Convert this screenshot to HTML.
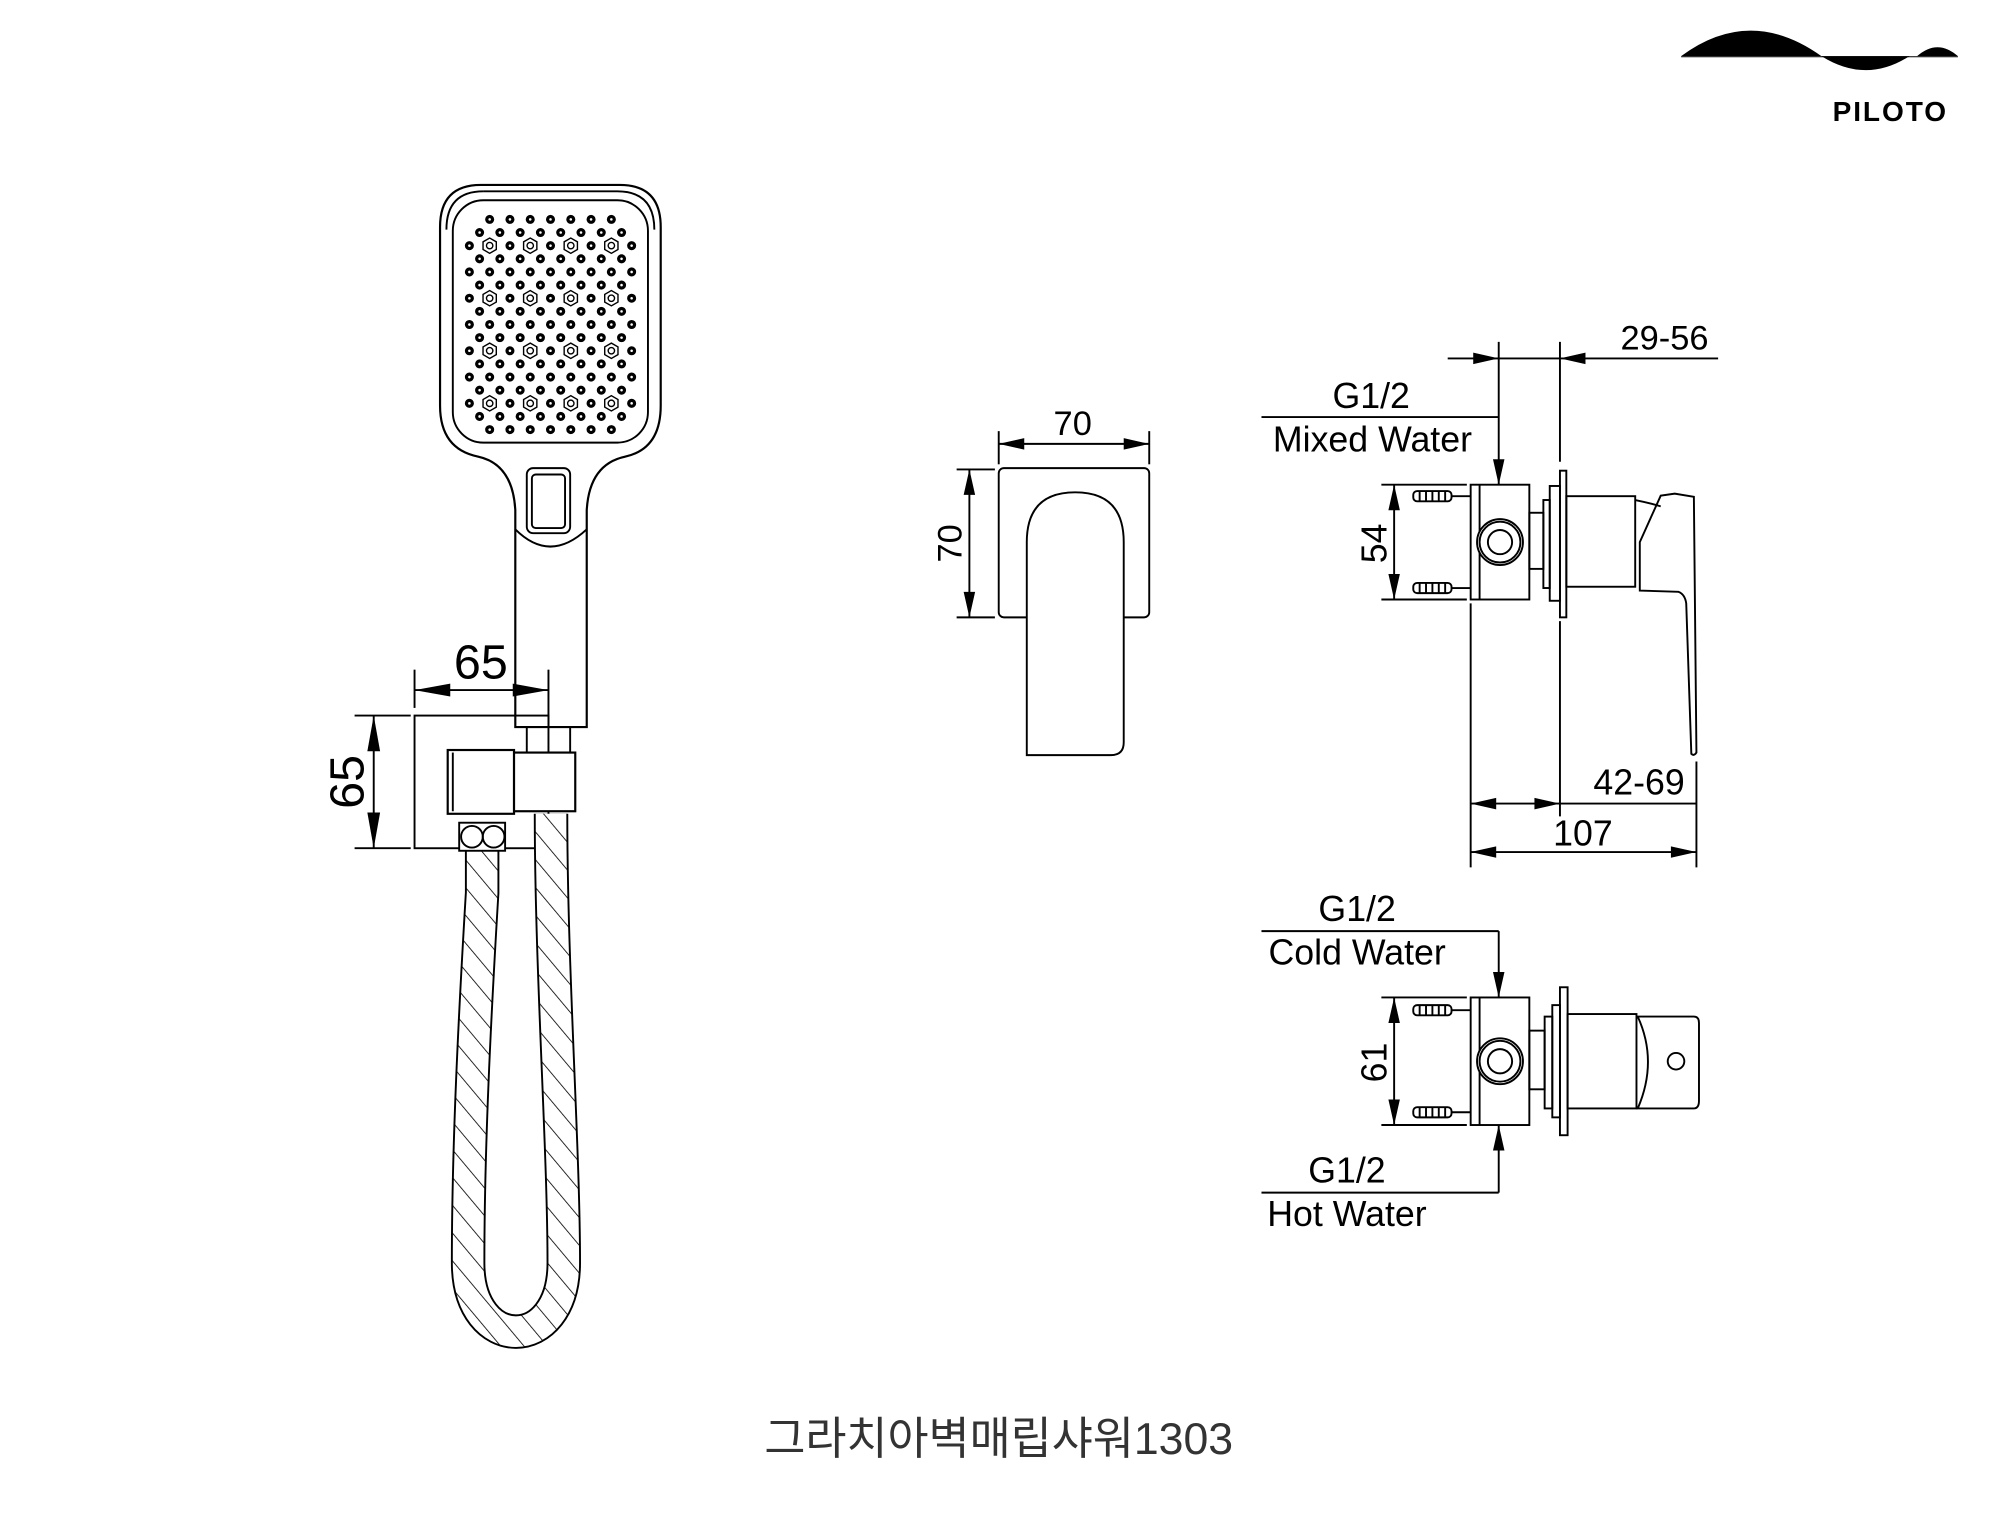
<!DOCTYPE html>
<html><head><meta charset="utf-8">
<style>
html,body{margin:0;padding:0;background:#fff;}
svg{display:block;}
text{font-family:"Liberation Sans",Arial,sans-serif;fill:#000;}
</style></head>
<body>
<svg id="s" width="2000" height="1530" viewBox="0 0 1568 1199.5" preserveAspectRatio="none" xmlns="http://www.w3.org/2000/svg">
<defs>
<pattern id="hatch" width="14" height="14" patternUnits="userSpaceOnUse" patternTransform="rotate(-40)">
<rect width="14" height="14" fill="#fff"/>
<line x1="0" y1="0" x2="0" y2="14" stroke="#000" stroke-width="1.3"/>
</pattern>
</defs>
<g fill="none" stroke="#000" stroke-width="1.5" id="g">
<!-- Logo -->
<path d="M1318 44 Q1372 4 1428 44 Z" fill="#000" stroke="none"/>
<path d="M1428 44 L1497 44 Q1463 66 1428 44 Z" fill="#000" stroke="none"/>
<path d="M1503 44 Q1519 30 1535 44 Z" fill="#000" stroke="none"/>
<line x1="1318" y1="44.5" x2="1535" y2="44.5" stroke-width="0.8"/>

<!-- Hand shower head -->
<path d="M377 145 H486 Q518 145 518 178 V318 Q518 352 490 358 Q462 364 460 400 V570 H404 V400 Q402 364 375 358 Q345 352 345 318 V178 Q345 145 377 145 Z" stroke-width="1.7"/>
<path d="M379 150 H484 Q513 150 513 180" />
<path d="M350 180 Q350 150 379 150"/>
<rect x="355" y="157" width="153" height="190" rx="24"/>
<rect x="413" y="367" width="34" height="51" rx="5"/>
<rect x="417" y="372" width="26" height="42" rx="3"/>
<path d="M404 415 Q431 442 460 415"/>
<!-- bracket -->
<rect x="325" y="561" width="105" height="104"/>
<rect x="413" y="570" width="34" height="20"/>
<!-- hose -->
<path d="M378 667 L378 700 C372 800 367 900 367 990 C367 1062 442 1062 442 990 C442 900 432 760 432 638" stroke="#000" stroke-width="27"/>
<path d="M378 667 L378 700 C372 800 367 900 367 990 C367 1062 442 1062 442 990 C442 900 432 760 432 638" stroke="url(#hatch)" stroke-width="24"/>
<rect x="351" y="588" width="52" height="50" fill="#fff" stroke-width="1.7"/>
<line x1="355" y1="590" x2="355" y2="636"/>
<rect x="403" y="590" width="48" height="46" fill="#fff" stroke-width="1.7"/>
<rect x="360" y="645" width="36" height="22" fill="#fff"/>
<circle cx="370" cy="656" r="8.5"/>
<circle cx="387" cy="656" r="8.5"/>
<!-- 65 dims -->
<line x1="325" y1="525" x2="325" y2="555"/>
<line x1="430" y1="525" x2="430" y2="570"/>
<line x1="325" y1="541" x2="430" y2="541"/>
<line x1="278" y1="561" x2="322" y2="561"/>
<line x1="278" y1="665" x2="322" y2="665"/>
<line x1="293" y1="561" x2="293" y2="665"/>

<!-- middle front view -->
<rect x="783" y="367" width="118" height="117" rx="4"/>
<path d="M805 592 V425 Q805 386 843 386 Q881 386 881 425 V582 Q881 592 871 592 Z" fill="#fff"/>
<line x1="783" y1="338" x2="783" y2="364"/>
<line x1="901" y1="338" x2="901" y2="364"/>
<line x1="783" y1="348" x2="901" y2="348"/>
<line x1="750" y1="368" x2="780" y2="368"/>
<line x1="750" y1="484" x2="780" y2="484"/>
<line x1="760" y1="368" x2="760" y2="484"/>

<!-- top right valve -->
<line x1="1135" y1="281" x2="1347" y2="281"/>
<line x1="1175" y1="268" x2="1175" y2="380"/>
<line x1="1223" y1="268" x2="1223" y2="362"/>
<line x1="989" y1="327" x2="1175" y2="327"/>
<rect x="1153" y="380" width="46" height="90"/>
<line x1="1160" y1="380" x2="1160" y2="470"/>
<circle cx="1176" cy="425" r="18" fill="#fff"/>
<circle cx="1176" cy="425" r="16"/>
<circle cx="1176" cy="425" r="9.5"/>
<rect x="1199" y="402" width="11" height="44"/>
<rect x="1210" y="392" width="5" height="69"/>
<rect x="1215" y="381" width="8" height="90"/>
<rect x="1223" y="369" width="5" height="115"/>
<rect x="1228" y="389" width="54" height="71"/>
<path d="M1282 392 Q1292 394 1302 397"/>
<path d="M1285.6 425 L1302 388.6 L1313 387 L1328 389.5 L1330 590 Q1328 593 1326 591 L1322 473 Q1321 466 1316 464 L1285.6 463 Z"/>
<line x1="1083" y1="380" x2="1150" y2="380"/>
<line x1="1083" y1="470" x2="1150" y2="470"/>
<line x1="1093" y1="380" x2="1093" y2="470"/>
<line x1="1153" y1="473" x2="1153" y2="680"/>
<line x1="1223" y1="487" x2="1223" y2="640"/>
<line x1="1330" y1="597" x2="1330" y2="680"/>
<line x1="1153" y1="630" x2="1330" y2="630"/>
<line x1="1153" y1="668" x2="1330" y2="668"/>

<!-- bottom valve -->
<line x1="989" y1="730" x2="1175" y2="730"/>
<line x1="1175" y1="730" x2="1175" y2="782"/>
<line x1="989" y1="935" x2="1175" y2="935"/>
<line x1="1175" y1="882" x2="1175" y2="935"/>
<rect x="1153" y="782" width="46" height="100"/>
<line x1="1160" y1="782" x2="1160" y2="882"/>
<circle cx="1176" cy="832" r="18" fill="#fff"/>
<circle cx="1176" cy="832" r="16"/>
<circle cx="1176" cy="832" r="9.5"/>
<rect x="1199" y="808" width="12" height="46"/>
<rect x="1211" y="797" width="6" height="72"/>
<rect x="1217" y="788" width="6" height="88"/>
<rect x="1223" y="774" width="6" height="116"/>
<rect x="1229" y="795" width="54" height="74"/>
<path d="M1284 797 H1328 Q1332 797 1332 802 V863 Q1332 869 1328 869 H1284 Q1300 832 1284 797 Z"/>
<circle cx="1314" cy="832" r="6.5"/>
<line x1="1083" y1="782" x2="1150" y2="782"/>
<line x1="1083" y1="882" x2="1150" y2="882"/>
<line x1="1093" y1="782" x2="1093" y2="882"/>
</g>
<g id="holes" fill="none" stroke="#000" stroke-width="1.1"></g>
<g id="arr" fill="#000"></g>

<!-- texts -->
<text x="377" y="532" font-size="38" text-anchor="middle">65</text>
<text transform="translate(285,613) rotate(-90)" font-size="38" text-anchor="middle">65</text>
<text x="841" y="341" font-size="27" text-anchor="middle">70</text>
<text transform="translate(754,426) rotate(-90)" font-size="27" text-anchor="middle">70</text>
<text x="1305" y="274" font-size="27" text-anchor="middle">29-56</text>
<text x="1075" y="320" font-size="28" text-anchor="middle">G1/2</text>
<text x="1076" y="354" font-size="28" text-anchor="middle">Mixed Water</text>
<text transform="translate(1087,426) rotate(-90)" font-size="28" text-anchor="middle">54</text>
<text x="1285" y="623" font-size="28" text-anchor="middle">42-69</text>
<text x="1241" y="663" font-size="28" text-anchor="middle">107</text>
<text x="1064" y="722" font-size="28" text-anchor="middle">G1/2</text>
<text x="1064" y="756" font-size="28" text-anchor="middle">Cold Water</text>
<text transform="translate(1087,833) rotate(-90)" font-size="28" text-anchor="middle">61</text>
<text x="1056" y="927" font-size="28" text-anchor="middle">G1/2</text>
<text x="1056" y="961" font-size="28" text-anchor="middle">Hot Water</text>
<text x="1482" y="95" font-size="22" font-weight="bold" text-anchor="middle" letter-spacing="1.5">PILOTO</text>
<text x="783" y="1140" font-size="35" text-anchor="middle" style="font-family:'Liberation Sans','Noto Sans CJK KR',sans-serif;fill:#333">그라치아벽매립샤워1303</text>
</svg>
<script>
var NS="http://www.w3.org/2000/svg";
function el(p,t,a){var e=document.createElementNS(NS,t);for(var k in a)e.setAttribute(k,a[k]);p.appendChild(e);return e;}
var H=document.getElementById('holes');
for(var i=0;i<17;i++){
  var y=172+i*10.3;
  if(i%2==0){
    var x0=368;
    for(var k=0;k<9;k++){
      if((i==0||i==16)&&(k==0||k==8))continue;
      var x=x0+k*15.9;
      if(i%4==2&&k%2==1){
        var pts=[];for(var a=0;a<6;a++){var an=Math.PI/3*a+Math.PI/6;pts.push((x+6*Math.cos(an)).toFixed(1)+","+(y+6*Math.sin(an)).toFixed(1));}
        el(H,'polygon',{points:pts.join(' ')});el(H,'circle',{cx:x,cy:y,r:2.5});
      } else {el(H,'circle',{cx:x,cy:y,r:3,fill:'#000'});el(H,'circle',{cx:x,cy:y,r:1,fill:'#fff',stroke:'none'});}
    }
  } else {
    for(var k=0;k<8;k++){var x=376+k*15.9;el(H,'circle',{cx:x,cy:y,r:3,fill:'#000'});el(H,'circle',{cx:x,cy:y,r:1,fill:'#fff',stroke:'none'});}
  }
}
var G=document.getElementById('g');
[389,461,792,872].forEach(function(y){
  el(G,'line',{x1:1138,y1:y,x2:1153,y2:y});
  el(G,'rect',{x:1108,y:y-4,width:30,height:8,rx:3});
  for(var k=0;k<5;k++)el(G,'line',{x1:1113+k*5,y1:y-4,x2:1113+k*5,y2:y+4});
});
var A=document.getElementById('arr');
function ar(x,y,d,L,W){L=L||20;W=W||4.5;var p;
 if(d=='r')p=[[x,y],[x-L,y-W],[x-L,y+W]];
 if(d=='l')p=[[x,y],[x+L,y-W],[x+L,y+W]];
 if(d=='d')p=[[x,y],[x-W,y-L],[x+W,y-L]];
 if(d=='u')p=[[x,y],[x-W,y+L],[x+W,y+L]];
 el(A,'polygon',{points:p.map(function(q){return q.join(',')}).join(' ')});}
ar(325,541,'l',28,5);ar(430,541,'r',28,5);
ar(293,561,'u',28,5);ar(293,665,'d',28,5);
ar(783,348,'l');ar(901,348,'r');ar(760,368,'u');ar(760,484,'d');
ar(1175,281,'r');ar(1223,281,'l');ar(1175,380,'d');
ar(1093,380,'u');ar(1093,470,'d');
ar(1153,630,'l');ar(1223,630,'r');ar(1153,668,'l');ar(1330,668,'r');
ar(1175,782,'d');ar(1175,882,'u');ar(1093,782,'u');ar(1093,882,'d');
</script>
</body></html>
